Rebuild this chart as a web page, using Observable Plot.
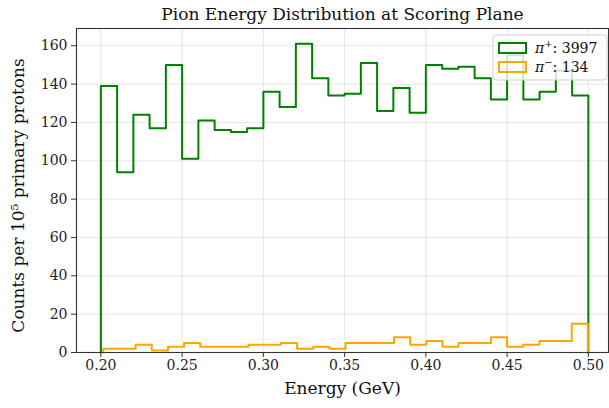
<!DOCTYPE html>
<html>
<head>
<meta charset="utf-8">
<script src="https://cdn.jsdelivr.net/npm/d3@7"></script>
<script src="https://cdn.jsdelivr.net/npm/@observablehq/plot@0.6"></script>
<style>
  html, body { margin: 0; padding: 0; background: #fff; }
  #chart { width: 609px; height: 408px; }
</style>
</head>
<body>
<div id="chart"></div>
<script>
// ---- data ----
const title = "Pion Energy Distribution at Scoring Plane";
const xLabel = "Energy (GeV)";
const yLabel = "Counts per 10⁵ primary protons";
const xTicks = [0.20, 0.25, 0.30, 0.35, 0.40, 0.45, 0.50];
const yTicks = [0, 20, 40, 60, 80, 100, 120, 140, 160];

// pi+ histogram: 30 bins over [0.20, 0.50]
const piPlusRange = [0.20, 0.50];
const piPlusCounts = [139, 94, 124, 117, 150, 101, 121, 116, 115, 117,
                      136, 128, 161, 143, 134, 135, 151, 126, 138, 125,
                      150, 148, 149, 143, 132, 155, 132, 136, 147, 134];
const piPlusTotal = 3997;

// pi- histogram: 30 bins over the pi- data range
const piMinusRange = [0.2015, 0.4997];
const piMinusCounts = [2, 2, 4, 1, 3, 5, 3, 3, 3, 4,
                       4, 5, 2, 3, 2, 5, 5, 5, 8, 4,
                       6, 3, 5, 5, 8, 3, 4, 6, 6, 15];
const piMinusTotal = 134;

const colPlus = "#008000";
const colMinus = "#FFA500";

function stepData(range, counts) {
  const n = counts.length;
  const w = (range[1] - range[0]) / n;
  const pts = [{x: range[0], y: 0}];
  counts.forEach((c, i) => pts.push({x: range[0] + i * w, y: c}));
  pts.push({x: range[1], y: counts[n - 1]});
  pts.push({x: range[1], y: 0});
  return pts;
}

const plusSteps = stepData(piPlusRange, piPlusCounts);
const minusSteps = stepData(piMinusRange, piMinusCounts);

const font = "DejaVu Serif, serif";

const chart = Plot.plot({
  width: 609,
  height: 408,
  marginLeft: 76,
  marginRight: 1,
  marginTop: 28,
  marginBottom: 56,
  style: {fontFamily: font, fontSize: "14px", color: "#222", background: "#fff"},
  x: {domain: [0.185, 0.5124], ticks: xTicks, tickFormat: ".2f", label: null},
  y: {domain: [0, 169], ticks: yTicks, label: null},
  marks: [
    Plot.gridX(xTicks, {stroke: "#b0b0b0", strokeOpacity: 0.3, strokeWidth: 1}),
    Plot.gridY(yTicks, {stroke: "#b0b0b0", strokeOpacity: 0.3, strokeWidth: 1}),
    Plot.line(plusSteps, {x: "x", y: "y", curve: "step-after", stroke: colPlus, strokeWidth: 2}),
    Plot.line(minusSteps, {x: "x", y: "y", curve: "step-after", stroke: colMinus, strokeWidth: 2}),
    Plot.frame({stroke: "#333", strokeWidth: 1.1}),
    Plot.axisX({ticks: xTicks, tickFormat: ".2f", tickSize: 5, tickPadding: 3, fontSize: 14, label: null, stroke: "#333"}),
    Plot.axisY({ticks: yTicks, tickSize: 5, tickPadding: 4, fontSize: 14, label: null, stroke: "#333"}),
    Plot.text([title], {frameAnchor: "top", dy: -14, fontSize: 17, fill: "#111", lineAnchor: "middle"}),
    Plot.text([xLabel], {frameAnchor: "bottom", dy: 36, fontSize: 17, fill: "#111", lineAnchor: "middle"}),
    Plot.text([yLabel], {frameAnchor: "left", textAnchor: "middle", dx: -58, dy: 5, rotate: -90, fontSize: 17, fill: "#111", lineAnchor: "middle"})
  ]
});

document.getElementById("chart").appendChild(chart);

// ---- legend ----
const svg = d3.select(chart);
const lg = svg.append("g").attr("transform", "translate(493,35)")
  .attr("font-family", font).attr("font-size", 14).attr("text-anchor", "start");
lg.append("rect").attr("x", 0).attr("y", 0).attr("width", 114).attr("height", 45).attr("rx", 3)
  .attr("fill", "#fff").attr("fill-opacity", 0.8).attr("stroke", "#d0d0d0");
const items = [
  {color: colPlus, sign: "+", total: piPlusTotal},
  {color: colMinus, sign: "−", total: piMinusTotal}
];
items.forEach((it, i) => {
  const y0 = 8 + i * 19;
  lg.append("rect").attr("x", 6).attr("y", y0).attr("width", 27).attr("height", 10)
    .attr("fill", "none").attr("stroke", it.color).attr("stroke-width", 2);
  const t = lg.append("text").attr("x", 42).attr("y", y0 + 10).attr("fill", "#111");
  t.append("tspan").attr("font-style", "italic").text("π");
  t.append("tspan").attr("dy", -6).attr("font-size", 10).text(it.sign);
  t.append("tspan").attr("dy", 6).text(": " + it.total);
});
</script>
</body>
</html>
